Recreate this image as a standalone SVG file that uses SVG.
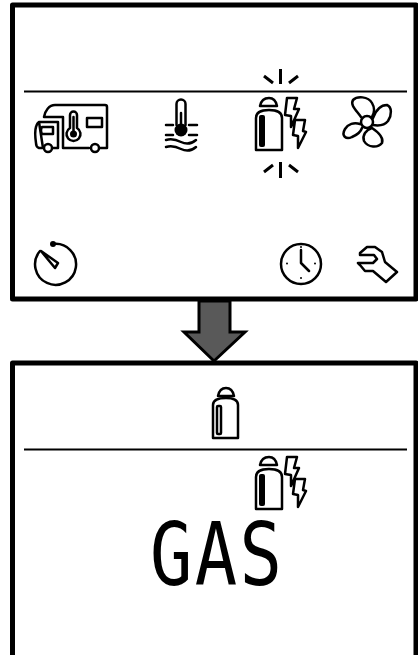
<svg xmlns="http://www.w3.org/2000/svg" width="418" height="655" viewBox="0 0 418 655">
<style>
.frame{fill:#fff;stroke:#000;stroke-width:5;stroke-linejoin:round}
.rule{stroke:#000;stroke-width:2;fill:none}
.o{fill:none;stroke:#000;stroke-width:2.500;stroke-linejoin:round;stroke-linecap:round}
.k{fill:#000}
.ray{stroke:#000;stroke-width:3;fill:none}
.lcd{font-family:"DejaVu Sans Mono","Liberation Mono",monospace;font-size:88px;fill:#000}
</style>
<defs>
<g id="gasbolt">
<path class="o" d="M256 150V118C256 112 262 110 269 110C276 110 282 112 282 118V150Z"/>
<path class="o" d="M260 106C261 101 264 98 269 98C273 98 276 101 277 106Z"/>
<rect class="k" x="259" y="115" width="6" height="32" rx="2"/>
<path class="o" d="M287 98H297L294 109H299L291 127V116L285 115ZM295 120H305L303 131L306 132L298 148V136L293 135Z"/>
</g>
</defs>

<g id="panel-top">
<rect class="frame" x="12.500" y="5" width="403.500" height="294"/>
<line class="rule" x1="24" y1="91.500" x2="407" y2="91.500"/>
</g>

<g id="camper">
<path class="o" d="M44 117C45 111 49 105 55 105H105Q107 105 107 107V148H100M89 148H63V117H44"/>
<path class="o" d="M39 122H58V148H53M43 148H39Q36 147 36 143C35 136 35 130 36 127Q37 123 39 122Z"/>
<path class="o" d="M42 127H53V134H42Q40 130 42 127Z"/>
<rect class="o" x="87" y="118" width="15" height="9"/>
<circle class="o" cx="48" cy="148" r="4"/>
<circle class="o" cx="95" cy="148" r="4"/>
<path class="o" d="M70 128V115A3.500 3.500 0 0 1 77 115V128A7 7 0 1 1 70 128Z"/>
<circle class="k" cx="73.500" cy="134" r="3.500"/>
<line class="o" x1="73.500" y1="117" x2="73.500" y2="132"/>
</g>

<g id="temperature">
<path class="o" d="M176.500 125V104A4.500 4.500 0 0 1 185.500 104V125"/>
<circle class="k" cx="181" cy="130" r="6.500"/>
<line class="o" x1="181" y1="113" x2="181" y2="128"/>
<path class="o" d="M166 125H173M189 125H197M166 135H173M189 135H197"/>
<path class="o" d="M166 140Q173 138 181 142T196 140M166 147Q173 145 181 149T196 147"/>
</g>

<g id="gas-bolt-top"><use href="#gasbolt"/></g>

<g id="blink-top"><path class="ray" d="M280.500 69V84M264 76L273 83M298 76L289 83"/></g>
<g id="blink-bottom"><path class="ray" d="M280.500 162V178M264 172L273 165M298 172L289 165"/></g>

<g id="fan">
<circle class="o" cx="367" cy="122" r="6"/>
<path class="o" d="M361 117C356 110 350 105 353 100C357 96 368 96 372 103C375 108 375 112 372 117"/>
<path class="o" d="M373 118C376 110 381 105 387 105C392 107 392 115 388 121C384 126 379 126 373 125"/>
<path class="o" d="M372 128C366 130 362 135 364 141C368 148 378 148 382 143C384 137 378 132 372 128"/>
<path class="o" d="M360 124C354 122 348 124 345 129C341 136 346 140 352 137C357 135 361 131 362 128"/>
</g>

<g id="timer">
<path class="o" d="M53 244A20.500 20.500 0 1 1 40 251"/>
<circle class="k" cx="53" cy="244" r="3"/>
<path class="o" d="M41 251L58 263L55 268Z"/>
</g>

<g id="clock">
<circle class="o" cx="301" cy="264" r="20"/>
<path class="o" d="M301 250V263L309 271"/>
<circle class="k" cx="287" cy="263.500" r="1"/><circle class="k" cx="315" cy="263.500" r="1"/><circle class="k" cx="301" cy="278" r="1"/><circle class="k" cx="301" cy="247" r="1"/>
</g>

<g id="wrench">
<path class="o" d="M360 253L367 247H375L382 252L385 262L397 272L386 282L373 271H365L360 265L358 263H373L377 259L374 255H360Z"/>
</g>

<g id="panel-bottom">
<path class="frame" d="M12.500 660V363H416V660"/>
<line class="rule" x1="24" y1="449.500" x2="407" y2="449.500"/>
</g>

<g id="arrow">
<path d="M199 301V332H184L214 361L245 332H230V301Z" fill="#595959" stroke="#000" stroke-width="3" stroke-linejoin="miter"/>
</g>

<g id="gas-icon">
<path class="o" d="M213 438V405C213 400 218 398 226 398C234 398 238 400 238 405V438Z"/>
<path class="o" d="M218 396C219 391 222 388 226 388C230 388 233 391 234 396Z"/>
<rect class="o" x="217" y="406" width="4" height="28" rx="1"/>
</g>

<g id="gas-bolt-bottom"><use href="#gasbolt" y="359"/></g>

<g id="readout">
<text class="lcd" transform="translate(150,585) scale(.8,1)" x="0 56 112">GAS</text>
</g>
</svg>
